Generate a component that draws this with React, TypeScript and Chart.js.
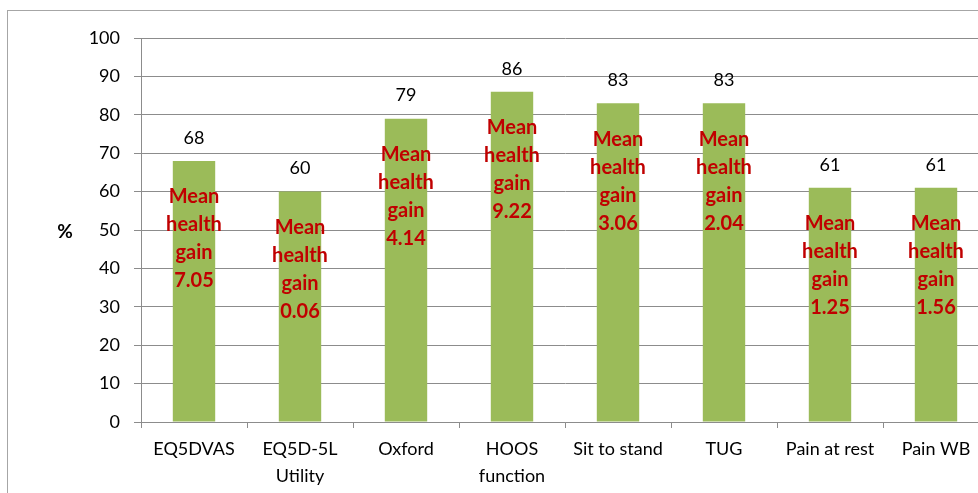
import React, { useEffect, useRef } from "react";
import { Chart, registerables } from "chart.js";

Chart.register(...registerables);

// ---- data ----
const categories: string[][] = [
  ["EQ5DVAS"],
  ["EQ5D-5L", "Utility"],
  ["Oxford"],
  ["HOOS", "function"],
  ["Sit to stand"],
  ["TUG"],
  ["Pain at rest"],
  ["Pain WB"],
];
const percentValues = [68, 60, 79, 86, 83, 83, 61, 61];
const meanHealthGain = ["7.05", "0.06", "4.14", "9.22", "3.06", "2.04", "1.25", "1.56"];
const yMin = 0;
const yMax = 100;
const yStep = 10;
const yAxisLabel = "%";
const gainLabelLines = ["Mean", "health", "gain"];

const FONT = "Lato, 'Open Sans', sans-serif";
const GRID = "#8c8c8c";

const labelsPlugin = {
  id: "barLabels",
  afterDatasetsDraw(chart: any) {
    const ctx = chart.ctx as CanvasRenderingContext2D;
    const meta = chart.getDatasetMeta(0);
    ctx.save();
    meta.data.forEach((bar: any, i: number) => {
      const x = bar.x;
      const top = bar.y;
      // value label
      ctx.font = `18px ${FONT}`;
      ctx.fillStyle = "#000000";
      ctx.textAlign = "center";
      ctx.textBaseline = "middle";
      ctx.fillText(String(percentValues[i]), x, top - 23);
      // red annotation
      const lines = [...gainLabelLines, meanHealthGain[i]];
      const lh = 28;
      const centerY = top + 78;
      ctx.font = `bold 20px ${FONT}`;
      ctx.fillStyle = "#C00000";
      lines.forEach((t, k) => {
        ctx.fillText(t, x, centerY + (k - (lines.length - 1) / 2) * lh);
      });
    });
    // y-axis "%" label (horizontal)
    const ca = chart.chartArea;
    ctx.font = `bold 19px ${FONT}`;
    ctx.fillStyle = "#000000";
    ctx.textAlign = "center";
    ctx.textBaseline = "middle";
    ctx.fillText(yAxisLabel, ca.left - 76, (ca.top + ca.bottom) / 2 + 2);
    ctx.restore();
  },
};

export default function App() {
  const ref = useRef<HTMLCanvasElement | null>(null);

  useEffect(() => {
    if (!ref.current) return;
    const chart = new Chart(ref.current, {
      type: "bar",
      data: {
        labels: categories,
        datasets: [
          {
            data: percentValues,
            backgroundColor: "#9BBB59",
            borderWidth: 0,
            barPercentage: 0.4,
            categoryPercentage: 1,
          },
        ],
      },
      options: {
        responsive: false,
        animation: false,
        events: [],
        layout: { padding: { left: 0, top: 27, right: 79, bottom: 29 } },
        plugins: {
          legend: { display: false },
          tooltip: { enabled: false },
          title: { display: false },
        },
        scales: {
          x: {
            afterFit: (s: any) => {
              s.height = 80;
            },
            grid: {
              display: true,
              drawOnChartArea: false,
              drawTicks: true,
              tickLength: 6,
              color: GRID,
              offset: true,
            },
            border: { display: true, color: GRID, width: 1 },
            ticks: {
              color: "#000000",
              font: { family: FONT, size: 18, lineHeight: 1.5 },
              padding: 8,
              maxRotation: 0,
              autoSkip: false,
            },
          },
          y: {
            min: yMin,
            max: yMax,
            afterFit: (s: any) => {
              s.width = 133;
            },
            grid: {
              color: GRID,
              lineWidth: 1,
              drawTicks: true,
              tickLength: 7,
            },
            border: { display: true, color: GRID, width: 1 },
            ticks: {
              stepSize: yStep,
              color: "#000000",
              font: { family: FONT, size: 18 },
              padding: 14,
            },
          },
        },
      },
      plugins: [labelsPlugin],
    });
    return () => chart.destroy();
  }, []);

  return (
    <div
      style={{
        position: "fixed",
        left: 0,
        top: 0,
        width: 978,
        height: 493,
        overflow: "hidden",
        background: "#ffffff",
      }}
    >
      <div
        style={{
          position: "absolute",
          left: 7,
          top: 10,
          width: 1100,
          height: 600,
          border: "1px solid #a6a6a6",
        }}
      >
        <canvas ref={ref} width={1060} height={520} style={{ display: "block" }} />
      </div>
    </div>
  );
}
